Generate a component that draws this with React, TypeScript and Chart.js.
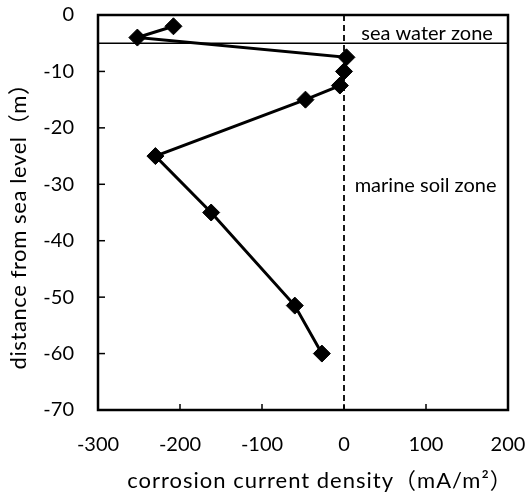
import React, { useEffect, useRef } from "react";
import { Chart, registerables } from "chart.js";

Chart.register(...registerables);

// Corrosion current density profile along the pile depth
const currentDensity = [-208, -252, 3, 0, -5, -47, -230, -162, -60, -27];
const depthBelowSea = [-2, -4, -7.5, -10, -12.5, -15, -25, -35, -51.5, -60];

const xTicks = [-300, -200, -100, 0, 100, 200];
const yTicks = [0, -10, -20, -30, -40, -50, -60, -70];

const xTitle = "corrosion current density（mA/m²）";
const yTitle = "distance from sea level（m）";

const seaBoundaryDepth = -5;
const zoneLabels = [
  { text: "sea water zone", x: 21, y: -3.2 },
  { text: "marine soil zone", x: 13, y: -30.2 },
];

const FONT = "Lato, 'Noto Sans CJK SC', sans-serif";

const framePlugin = {
  id: "frameAndZones",
  afterDatasetsDraw(chart: any) {
    const { ctx, chartArea, scales } = chart;
    const { left, right, top, bottom } = chartArea;
    const xs = scales.x;
    const ys = scales.y;
    ctx.save();

    // dashed zero line
    ctx.strokeStyle = "#000";
    ctx.lineWidth = 1.8;
    ctx.setLineDash([6, 4]);
    const x0 = xs.getPixelForValue(0);
    ctx.beginPath();
    ctx.moveTo(x0, top);
    ctx.lineTo(x0, bottom);
    ctx.stroke();
    ctx.setLineDash([]);

    // sea water / soil boundary
    const yb = ys.getPixelForValue(seaBoundaryDepth);
    ctx.lineWidth = 1.5;
    ctx.beginPath();
    ctx.moveTo(left, yb);
    ctx.lineTo(right, yb);
    ctx.stroke();

    // zone labels
    ctx.fillStyle = "#000";
    ctx.font = `20px ${FONT}`;
    ctx.textBaseline = "middle";
    ctx.textAlign = "left";
    zoneLabels.forEach((z) => {
      ctx.fillText(z.text, xs.getPixelForValue(z.x), ys.getPixelForValue(z.y));
    });

    // inward tick marks
    ctx.lineWidth = 1.5;
    xTicks.forEach((v) => {
      const px = xs.getPixelForValue(v);
      ctx.beginPath();
      ctx.moveTo(px, bottom);
      ctx.lineTo(px, bottom - 6);
      ctx.stroke();
    });
    yTicks.forEach((v) => {
      const py = ys.getPixelForValue(v);
      ctx.beginPath();
      ctx.moveTo(left, py);
      ctx.lineTo(left + 7, py);
      ctx.stroke();
    });

    // frame
    ctx.lineWidth = 2.5;
    ctx.strokeRect(left, top, right - left, bottom - top);

    // axis titles
    ctx.font = `22px ${FONT}`;
    ctx.textAlign = "center";
    ctx.textBaseline = "middle";
    ctx.letterSpacing = "1px";
    ctx.fillText(xTitle, 320, 481);
    ctx.letterSpacing = "0.6px";
    ctx.translate(19, 221);
    ctx.rotate(-Math.PI / 2);
    ctx.fillText(yTitle, 0, 0);
    ctx.restore();
  },
};

export default function App() {
  const canvasRef = useRef<HTMLCanvasElement | null>(null);

  useEffect(() => {
    const canvas = canvasRef.current;
    if (!canvas) return;
    const chart = new Chart(canvas, {
      type: "scatter",
      data: {
        datasets: [
          {
            data: currentDensity.map((x, i) => ({ x, y: depthBelowSea[i] })),
            showLine: true,
            borderColor: "#000",
            backgroundColor: "#000",
            borderWidth: 3,
            pointStyle: "rectRot",
            pointRadius: 8.5,
            pointBorderWidth: 1,
            pointBackgroundColor: "#000",
            pointBorderColor: "#000",
          },
        ],
      },
      options: {
        responsive: false,
        animation: false,
        events: [],
        layout: { padding: { top: 15, right: 22, left: 0, bottom: 0 } },
        plugins: { legend: { display: false }, tooltip: { enabled: false } },
        scales: {
          x: {
            type: "linear",
            min: -300,
            max: 200,
            afterBuildTicks: (s: any) => {
              s.ticks = xTicks.map((v) => ({ value: v }));
            },
            afterFit: (s: any) => {
              s.height = 87;
              s.paddingLeft = 0;
              s.paddingRight = 0;
            },
            grid: { display: false, drawTicks: false },
            border: { display: false },
            ticks: {
              color: "#000",
              padding: 23,
              font: { family: FONT, size: 20 },
            },
          },
          y: {
            type: "linear",
            min: -70,
            max: 0,
            afterBuildTicks: (s: any) => {
              s.ticks = yTicks.map((v) => ({ value: v }));
            },
            afterFit: (s: any) => {
              s.width = 98;
              s.paddingTop = 0;
              s.paddingBottom = 0;
            },
            grid: { display: false, drawTicks: false },
            border: { display: false },
            ticks: {
              color: "#000",
              padding: 24,
              font: { family: FONT, size: 20 },
            },
          },
        },
      },
      plugins: [framePlugin],
    } as any);
    return () => chart.destroy();
  }, []);

  return (
    <div style={{ position: "absolute", left: 0, top: 0, width: 530, height: 497, background: "#fff" }}>
      <canvas ref={canvasRef} width={530} height={497} style={{ display: "block" }} />
    </div>
  );
}
